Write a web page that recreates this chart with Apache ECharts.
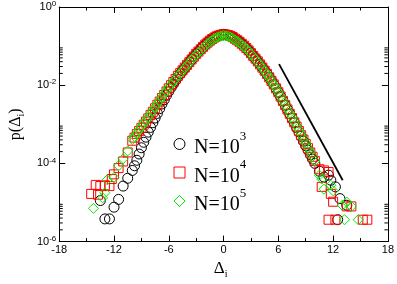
<!DOCTYPE html>
<html><head><meta charset="utf-8">
<script src="https://cdn.jsdelivr.net/npm/echarts@6/dist/echarts.min.js"></script>
<style>html,body{margin:0;padding:0;background:#fff}#c{width:397px;height:284px}</style>
</head><body><div id="c"></div><script>
// x positions (Δ_i) of the binned histogram, central part
const deltaGrid = [-10,-9.75,-9.5,-9.25,-9,-8.75,-8.5,-8.25,-8,-7.75,-7.5,-7.25,-7,-6.75,-6.5,-6.25,-6,-5.75,-5.5,-5.25,-5,-4.75,-4.5,-4.25,-4,-3.75,-3.5,-3.25,-3,-2.75,-2.5,-2.25,-2,-1.75,-1.5,-1.25,-1,-0.75,-0.5,-0.25,0,0.25,0.5,0.75,1,1.25,1.5,1.75,2,2.25,2.5,2.75,3,3.25,3.5,3.75,4,4.25,4.5,4.75,5,5.25,5.5,5.75,6,6.25,6.5,6.75,7,7.25,7.5,7.75,8,8.25,8.5,8.75,9,9.25,9.5,9.75,10];
// log10 p(Δ_i)
const logP_N1e3 = [-4.18,-4.06,-3.92,-3.76,-3.60,-3.46,-3.33,-3.20,-3.08,-2.96,-2.84,-2.72,-2.60,-2.48,-2.37,-2.26,-2.16,-2.06,-1.97,-1.88,-1.79,-1.71,-1.63,-1.56,-1.49,-1.41,-1.34,-1.27,-1.20,-1.14,-1.08,-1.02,-0.96,-0.91,-0.86,-0.82,-0.78,-0.75,-0.73,-0.71,-0.70,
 -0.71,-0.72,-0.74,-0.77,-0.81,-0.85,-0.89,-0.94,-0.99,-1.05,-1.11,-1.18,-1.25,-1.32,-1.39,-1.47,-1.55,-1.63,-1.71,-1.80,-1.89,-1.98,-2.08,-2.18,-2.29,-2.40,-2.51,-2.62,-2.73,-2.84,-2.96,-3.08,-3.19,-3.31,-3.43,-3.55,-3.66,-3.78,-3.89,-4.00];
const logP_N1e4 = [-3.42,-3.34,-3.25,-3.17,-3.09,-3.01,-2.93,-2.85,-2.76,-2.68,-2.59,-2.50,-2.42,-2.33,-2.25,-2.16,-2.08,-2.00,-1.92,-1.84,-1.76,-1.69,-1.62,-1.55,-1.48,-1.41,-1.34,-1.27,-1.20,-1.14,-1.08,-1.02,-0.96,-0.91,-0.86,-0.82,-0.78,-0.75,-0.73,-0.71,-0.70,
 -0.71,-0.72,-0.74,-0.77,-0.81,-0.85,-0.89,-0.94,-0.99,-1.05,-1.11,-1.18,-1.25,-1.32,-1.39,-1.47,-1.55,-1.63,-1.71,-1.80,-1.89,-1.98,-2.08,-2.18,-2.29,-2.40,-2.51,-2.62,-2.73,-2.84,-2.95,-3.06,-3.17,-3.28,-3.39,-3.50,-3.61,-3.72,-3.83,-3.94];
const logP_N1e5 = [-3.39,-3.31,-3.22,-3.14,-3.06,-2.98,-2.90,-2.82,-2.73,-2.65,-2.56,-2.47,-2.39,-2.30,-2.22,-2.14,-2.06,-1.99,-1.91,-1.84,-1.76,-1.70,-1.63,-1.56,-1.49,-1.42,-1.36,-1.29,-1.23,-1.17,-1.11,-1.05,-0.99,-0.94,-0.89,-0.85,-0.81,-0.78,-0.76,-0.74,-0.73,
 -0.74,-0.75,-0.77,-0.80,-0.84,-0.88,-0.92,-0.97,-1.02,-1.07,-1.13,-1.20,-1.27,-1.34,-1.41,-1.48,-1.56,-1.64,-1.72,-1.81,-1.90,-1.99,-2.08,-2.18,-2.28,-2.39,-2.50,-2.60,-2.71,-2.82,-2.93,-3.04,-3.15,-3.26,-3.37,-3.48,-3.60,-3.71,-3.82,-3.94];
// sparse tail points [Δ_i, log10 p]
const tail_N1e3 = [[-13.5,-4.95],[-13.0,-5.42],[-12.5,-5.42],[-12.0,-5.12],[-11.5,-4.92],[-11.0,-4.58],[-10.5,-4.38],[10.5,-4.20],[11.0,-4.35],[11.5,-4.30],[11.75,-4.43],[12.25,-4.60],[12.75,-4.90],[12.5,-5.44],[13.5,-5.07]];
const tail_N1e4 = [[-14.5,-4.78],[-14.0,-4.55],[-13.75,-4.80],[-13.5,-4.58],[-13.0,-4.56],[-12.5,-4.58],[-12.25,-4.40],[-12.0,-4.28],[-11.5,-4.12],[-11.0,-3.95],[-10.5,-3.72],[10.5,-4.15],[10.75,-4.60],[11.0,-4.18],[11.5,-4.22],[11.75,-4.78],[12.0,-4.98],[13.5,-5.10],[14.0,-5.10],[11.5,-5.44],[12.25,-5.44],[15.25,-5.44],[15.75,-5.44]];
const tail_N1e5 = [[-14.25,-5.15],[-13.25,-4.88],[-13.0,-4.75],[-12.75,-4.42],[-12.0,-4.36],[-11.5,-4.06],[-11.0,-3.88],[-10.5,-3.68],[10.5,-4.30],[10.75,-4.40],[11.0,-4.66],[11.75,-4.56],[12.0,-4.70],[13.0,-5.07],[13.5,-4.99],[14.0,-5.10],[13.25,-5.44],[14.75,-5.44]];
// straight guide line [Δ_i, log10 p]
const guideLine = [[6.08,-1.46],[13.05,-4.43]];
const seriesNames = ['N=10^3','N=10^4','N=10^5'];
const xTickValues = [-18,-12,-6,0,6,12,18];
const yMinorDecades = [-6,-4,-2];
const yMinorMultipliers = [2,3,4,5,6,7,8,9];

function build(xs, logs, tail) {
  const pts = xs.map((x, i) => [x, Math.pow(10, logs[i])]);
  tail.forEach(p => pts.push([p[0], Math.pow(10, p[1])]));
  return pts;
}
const minorVals = [];
yMinorDecades.forEach(d => yMinorMultipliers.forEach(k => minorVals.push([0, k * Math.pow(10, d)])));

const serifF = 'Liberation Serif';
const sansF = 'Liberation Sans';
const styles = [
  {symbol: 'circle', size: 10, color: '#000000'},
  {symbol: 'rect', size: 9, color: '#ff0000'},
  {symbol: 'diamond', size: 10, color: '#00ee00'}
];
const legendTops = [130, 158.5, 187];
const dataSets = [build(deltaGrid, logP_N1e3, tail_N1e3), build(deltaGrid, logP_N1e4, tail_N1e4), build(deltaGrid, logP_N1e5, tail_N1e5)];

const chart = echarts.init(document.getElementById('c'), null, {renderer: 'canvas'});
const axisCommon = {
  axisLine: {show: true, onZero: false, lineStyle: {color: '#000', width: 1}},
  splitLine: {show: false}
};
const legendRich = {
  n: {fontSize: 20, fontFamily: serifF, color: '#000', lineHeight: 20, verticalAlign: 'bottom', padding: [0, 0, 0, 4]},
  e: {fontSize: 13, fontFamily: serifF, color: '#000', lineHeight: 17, verticalAlign: 'top'},
  p: {fontSize: 1, lineHeight: 28}
};
chart.setOption({
  animation: false,
  backgroundColor: '#fff',
  grid: {left: 49, right: 7, top: 7, bottom: 39, containLabel: false},
  xAxis: [
    Object.assign({type: 'value', min: -18, max: 18, interval: 6, position: 'bottom',
      axisTick: {inside: true, length: 6, lineStyle: {color: '#000'}},
      minorTick: {show: true, splitNumber: 2, length: 3.5, lineStyle: {color: '#000'}},
      axisLabel: {color: '#000', fontSize: 11, fontFamily: sansF, margin: 3},
      name: '{d|Δ}{i|i}', nameLocation: 'middle', nameGap: 16,
      nameTextStyle: {padding: [0, 6, 0, 0], rich: {d: {fontSize: 17, fontFamily: serifF, color: '#000', lineHeight: 20}, i: {fontSize: 10, fontFamily: serifF, color: '#000', verticalAlign: 'bottom', lineHeight: 10}}}
    }, axisCommon),
    Object.assign({type: 'value', min: -18, max: 18, interval: 6, position: 'top',
      axisTick: {inside: true, length: 6, lineStyle: {color: '#000'}},
      minorTick: {show: true, splitNumber: 2, length: 3.5, lineStyle: {color: '#000'}},
      axisLabel: {show: false}
    }, axisCommon)
  ],
  yAxis: [
    Object.assign({type: 'log', logBase: 10, min: 1e-6, max: 1, interval: 2, position: 'left',
      axisTick: {inside: true, length: 6, lineStyle: {color: '#000'}},
      axisLabel: {margin: 3, formatter: v => '{b|10}{s|' + Math.round(Math.log10(v)) + '}',
        rich: {b: {fontSize: 11, fontFamily: sansF, color: '#000', lineHeight: 14}, s: {fontSize: 8, fontFamily: sansF, color: '#000', verticalAlign: 'top', lineHeight: 8}}},
      name: '{a|p(Δ}{i|i}{a|)}', nameLocation: 'middle', nameGap: 26,
      nameTextStyle: {rich: {a: {fontSize: 16, fontFamily: serifF, color: '#000', lineHeight: 20}, i: {fontSize: 10, fontFamily: serifF, color: '#000', verticalAlign: 'bottom', lineHeight: 10}}}
    }, axisCommon),
    Object.assign({type: 'log', logBase: 10, min: 1e-6, max: 1, interval: 2, position: 'right',
      axisTick: {inside: true, length: 6, lineStyle: {color: '#000'}},
      axisLabel: {show: false}
    }, axisCommon)
  ],
  legend: seriesNames.map((n, i) => ({
    orient: 'vertical', left: 173.5, top: legendTops[i], padding: 0, itemWidth: 11, itemHeight: 11,
    selectedMode: false,
    data: [{name: n, icon: styles[i].symbol,
      itemStyle: {color: 'rgba(0,0,0,0)', borderColor: styles[i].color, borderWidth: 1}}],
    formatter: nm => '{n|' + nm.split('^')[0] + '}{e|' + nm.split('^')[1] + '}{p| }',
    textStyle: {rich: legendRich}
  })),
  series: [
    ...dataSets.map((d, i) => ({
      name: seriesNames[i], type: 'scatter', data: d, symbol: styles[i].symbol, symbolSize: styles[i].size,
      itemStyle: {color: 'rgba(0,0,0,0)', borderColor: styles[i].color, borderWidth: 1, opacity: 1},
      z: 2 + i, silent: true
    })),
    {type: 'line', data: guideLine.map(p => [p[0], Math.pow(10, p[1])]), showSymbol: false, symbol: 'none',
      lineStyle: {color: '#000', width: 1.8}, z: 6, silent: true},
    {type: 'custom', data: minorVals, silent: true, z: 7, clip: false,
      renderItem: (params, api) => {
        const v = api.value(1);
        const pl = api.coord([-18, v]);
        const pr = api.coord([18, v]);
        return {type: 'group', children: [
          {type: 'line', shape: {x1: pl[0], y1: pl[1], x2: pl[0] + 3.5, y2: pl[1]}, style: {stroke: '#000', lineWidth: 1}},
          {type: 'line', shape: {x1: pr[0] - 3.5, y1: pr[1], x2: pr[0], y2: pr[1]}, style: {stroke: '#000', lineWidth: 1}}
        ]};
      }}
  ]
});
</script></body></html>
